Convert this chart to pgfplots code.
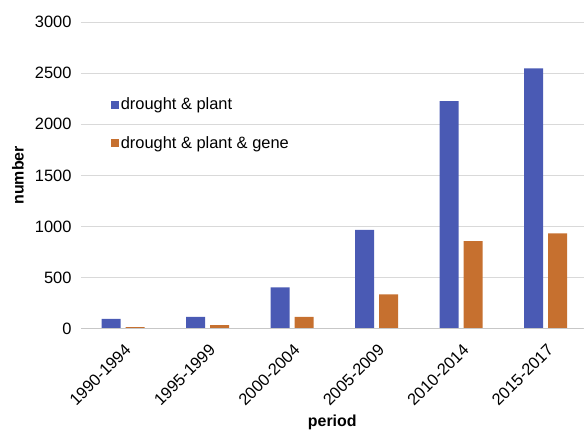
\documentclass[border=0pt]{standalone}
\usepackage{graphicx}
\usepackage{pgfplots}
\pgfplotsset{compat=1.18}
\usepackage{fontspec}
\setmainfont{Liberation Sans}
\definecolor{barblue}{RGB}{74,90,180}
\definecolor{barorange}{RGB}{198,112,47}
\definecolor{gridgray}{RGB}{217,217,217}
\begin{document}
\begin{tikzpicture}
\begin{axis}[
  at={(0,0)}, anchor=south west,
  scale only axis,
  width=503bp, height=307bp,
  xmin=-0.5, xmax=5.45,
  ymin=0, ymax=3000,
  ytick={0,500,1000,1500,2000,2500,3000},
  xtick={0,1,2,3,4,5},
  xticklabels={\rotatebox{45}{1990-1994},\rotatebox{45}{1995-1999},\rotatebox{45}{2000-2004},\rotatebox{45}{2005-2009},\rotatebox{45}{2010-2014},\rotatebox{45}{2015-2017}},
  axis line style={draw=none},
  major tick length=0pt,
  ymajorgrids, grid style={gridgray, line width=0.8pt},
  /pgf/number format/assume math mode=true,
  /pgf/number format/1000 sep={},
  ticklabel style={font=\fontsize{16.5}{19}\selectfont},
  yticklabel style={xshift=-6bp},
  xticklabel style={anchor=north east, inner sep=0pt, xshift=9bp, yshift=-14bp},
  ylabel={\bfseries number},
  xlabel={\bfseries period},
  label style={font=\fontsize{16}{19}\selectfont},
  ylabel style={at={([xshift=-63bp]axis description cs:0,0.5)}, anchor=center},
  xlabel style={at={([yshift=-94bp]axis description cs:0.5,0)}, anchor=center},
  ybar=5bp, bar width=19bp,
  legend style={at={(0.059,0.76)}, anchor=north west, draw=none, fill=none,
    font=\fontsize{16.5}{19}\selectfont, row sep=21bp, inner sep=0pt,
    /tikz/every even column/.append style={column sep=5bp}},
  legend cell align=left,
  legend image code/.code={\fill[#1] (0bp,-4bp) rectangle (8bp,4bp);},
]
\addplot[fill=barblue, draw=none] coordinates {(0,98) (1,117) (2,404) (3,967) (4,2225) (5,2547)};
\addplot[fill=barorange, draw=none] coordinates {(0,16) (1,36) (2,117) (3,336) (4,857) (5,932)};
\legend{drought \& plant, drought \& plant \& gene}
\draw[gridgray!80!gray, line width=0.8pt] (rel axis cs:0,0) -- (rel axis cs:1,0);
\end{axis}
\path[use as bounding box] (-81bp,-102bp) rectangle (503bp,329bp);
\end{tikzpicture}
\end{document}
